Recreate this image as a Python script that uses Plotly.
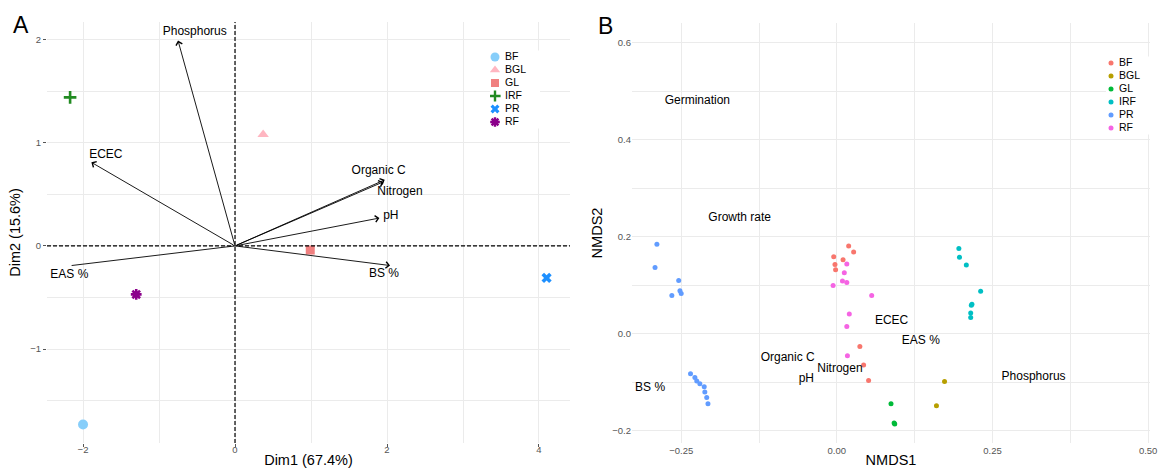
import plotly.graph_objects as go

# ---------------- data ----------------
categories = ["BF", "BGL", "GL", "IRF", "PR", "RF"]

# Panel A: PCA individuals (group centroids)
pca_dim1 = [-2.0, 0.37, 0.99, -2.17, 4.1, -1.3]
pca_dim2 = [-1.73, 1.08, -0.04, 1.44, -0.31, -0.47]

# Panel A: variable loadings (arrows) and label positions
vectors = ["Phosphorus", "ECEC", "Organic C", "Nitrogen", "pH", "BS %", "EAS %"]
load_dim1 = [-0.75, -1.89, 1.97, 1.95, 1.90, 2.04, -2.15]
load_dim2 = [1.99, 0.81, 0.64, 0.62, 0.27, -0.19, -0.19]
label_dim1 = [-0.53, -1.70, 1.89, 2.17, 2.05, 1.96, -2.18]
label_dim2 = [2.07, 0.88, 0.73, 0.52, 0.29, -0.27, -0.28]

# Panel B: NMDS site scores per group
nmds1 = {
    "BF": [0.019, 0.027, -0.005, 0.010, -0.003, -0.002, 0.037, 0.043, 0.051],
    "BGL": [0.173, 0.160],
    "GL": [0.087, 0.093, 0.092],
    "IRF": [0.196, 0.197, 0.208, 0.231, 0.216, 0.217, 0.215, 0.215],
    "PR": [-0.289, -0.292, -0.254, -0.265, -0.252, -0.250, -0.235, -0.228,
           -0.225, -0.220, -0.213, -0.212, -0.209, -0.207],
    "RF": [0.016, 0.012, 0.009, 0.016, -0.006, 0.056, 0.020, 0.016, 0.017],
}
nmds2 = {
    "BF": [0.181, 0.169, 0.159, 0.153, 0.143, 0.132, -0.026, -0.064, -0.096],
    "BGL": [-0.098, -0.148],
    "GL": [-0.144, -0.186, -0.184],
    "IRF": [0.176, 0.158, 0.142, 0.088, 0.059, 0.061, 0.043, 0.034],
    "PR": [0.185, 0.137, 0.110, 0.079, 0.089, 0.083, -0.082, -0.090,
           -0.097, -0.103, -0.109, -0.120, -0.131, -0.144],
    "RF": [0.144, 0.126, 0.109, 0.106, 0.100, 0.079, 0.041, 0.015, -0.045],
}

# Panel B: environmental variable label positions
env_names = ["Germination", "Growth rate", "ECEC", "EAS %", "Phosphorus",
             "Organic C", "Nitrogen", "pH", "BS %"]
env_x = [-0.224, -0.156, 0.088, 0.135, 0.316, -0.079, 0.005, -0.049, -0.300]
env_y = [0.480, 0.239, 0.027, -0.014, -0.088, -0.050, -0.073, -0.093, -0.112]

# ---------------- styles ----------------
FONT = "Liberation Sans, Arial, Helvetica, sans-serif"
a_colors = ["#87CEFA", "#FFB6C1", "#F08080", "#228B22", "#1E90FF", "#8B008B"]
a_symbols = ["circle", "triangle-up", "square", "cross-thin-open", "x", "asterisk-open"]
a_sizes = [10, 10, 9, 9, 9, 9]
b_colors = ["#F8766D", "#B79F00", "#00BA38", "#00BFC4", "#619CFF", "#F564E3"]
GRID = "#ebebeb"
TICKC = "#555555"

fig = go.Figure()

# Panel A points
for i, c in enumerate(categories):
    fig.add_trace(go.Scatter(
        x=[pca_dim1[i]], y=[pca_dim2[i]], mode="markers", name=c,
        marker=dict(symbol=a_symbols[i], color=a_colors[i], size=a_sizes[i],
                    line=dict(color=a_colors[i], width=2.6 if "open" in a_symbols[i] else 0)),
        xaxis="x", yaxis="y", showlegend=False))

# Panel A arrow labels
fig.add_trace(go.Scatter(
    x=label_dim1, y=label_dim2, text=vectors, mode="text",
    textfont=dict(family=FONT, size=12, color="black"),
    xaxis="x", yaxis="y", showlegend=False, hoverinfo="skip"))

# Panel B points
for i, c in enumerate(categories):
    fig.add_trace(go.Scatter(
        x=nmds1[c], y=nmds2[c], mode="markers", name=c,
        marker=dict(color=b_colors[i], size=5),
        xaxis="x2", yaxis="y2", showlegend=False))

# Panel B env labels
fig.add_trace(go.Scatter(
    x=env_x, y=env_y, text=env_names, mode="text",
    textfont=dict(family=FONT, size=12, color="black"),
    xaxis="x2", yaxis="y2", showlegend=False, hoverinfo="skip"))

# Legends (drawn on small hidden axes so the key spacing matches ggplot)
idx = list(range(len(categories)))
for i, c in enumerate(categories):
    fig.add_trace(go.Scatter(
        x=[0.1], y=[idx[i]], mode="markers",
        marker=dict(symbol=a_symbols[i], color=a_colors[i], size=a_sizes[i] - 1,
                    line=dict(color=a_colors[i], width=2.4 if "open" in a_symbols[i] else 0)),
        xaxis="x3", yaxis="y3", showlegend=False, hoverinfo="skip"))
fig.add_trace(go.Scatter(
    x=[0.3] * len(categories), y=idx, text=categories, mode="text",
    textposition="middle right",
    textfont=dict(family=FONT, size=10.5, color="black"),
    xaxis="x3", yaxis="y3", showlegend=False, hoverinfo="skip"))
fig.add_trace(go.Scatter(
    x=[0.1] * len(categories), y=idx, mode="markers",
    marker=dict(color=b_colors, size=5),
    xaxis="x4", yaxis="y4", showlegend=False, hoverinfo="skip"))
fig.add_trace(go.Scatter(
    x=[0.26] * len(categories), y=idx, text=categories, mode="text",
    textposition="middle right",
    textfont=dict(family=FONT, size=10.5, color="black"),
    xaxis="x4", yaxis="y4", showlegend=False, hoverinfo="skip"))

# Arrows for panel A
for i, v in enumerate(vectors):
    fig.add_annotation(
        x=load_dim1[i], y=load_dim2[i], ax=0, ay=0,
        xref="x", yref="y", axref="x", ayref="y",
        showarrow=True, text="",
        arrowhead=0 if v == "EAS %" else 4, arrowsize=1.4, arrowwidth=0.9,
        arrowcolor="black")

# Dashed reference lines
fig.add_shape(type="line", xref="x", yref="y domain", x0=0, x1=0, y0=0, y1=1,
              line=dict(color="black", width=1.2, dash="4px,2px"))
fig.add_shape(type="line", xref="x domain", yref="y", x0=0, x1=1, y0=0, y1=0,
              line=dict(color="black", width=1.2, dash="4px,2px"))

# Panel letters
fig.add_annotation(text="A", x=21 / 1164, y=1 - 25 / 468, xref="paper", yref="paper",
                   xanchor="center", yanchor="middle",
                   showarrow=False, font=dict(family=FONT, size=23, color="black"))
fig.add_annotation(text="B", x=605 / 1164, y=1 - 26 / 468, xref="paper", yref="paper",
                   xanchor="center", yanchor="middle",
                   showarrow=False, font=dict(family=FONT, size=23, color="black"))

tickfont = dict(family=FONT, size=9.5, color=TICKC)
titlefont = dict(family=FONT, size=14.5, color="black")

fig.update_layout(
    width=1164, height=468, margin=dict(l=0, r=0, t=0, b=0),
    template="none", paper_bgcolor="white", plot_bgcolor="white",
    showlegend=False,
    xaxis=dict(domain=[47 / 1164, 570 / 1164], range=[-2.474, 4.408],
               tick0=0, dtick=2, showgrid=True, gridcolor=GRID, gridwidth=1,
               minor=dict(dtick=1, showgrid=True, gridcolor=GRID, gridwidth=1),
               zeroline=False, showline=False, ticks="outside", ticklen=3,
               tickcolor=TICKC, tickfont=tickfont, automargin=False,
               ticklabelstandoff=-5,
               title=dict(text="Dim1 (67.4%)", font=titlefont, standoff=4)),
    yaxis=dict(domain=[1 - 443 / 468, 1 - 22 / 468], range=[-1.91, 2.17],
               tick0=0, dtick=1, showgrid=True, gridcolor=GRID, gridwidth=1,
               minor=dict(dtick=0.5, showgrid=True, gridcolor=GRID, gridwidth=1),
               zeroline=False, showline=False, ticks="outside", ticklen=3,
               tickcolor=TICKC, tickfont=tickfont, automargin=False,
               title=dict(text="Dim2 (15.6%)", font=titlefont, standoff=6)),
    xaxis2=dict(domain=[632 / 1164, 1150 / 1164], range=[-0.329, 0.503],
                tick0=0, dtick=0.25, tickformat=".2f",
                showgrid=True, gridcolor=GRID, gridwidth=1,
                minor=dict(dtick=0.125, showgrid=True, gridcolor=GRID, gridwidth=1),
                zeroline=False, showline=False, ticks="",
                tickfont=tickfont, automargin=False,
                title=dict(text="NMDS1", font=titlefont, standoff=2)),
    yaxis2=dict(domain=[1 - 443 / 468, 1 - 23 / 468], range=[-0.225, 0.641],
                tick0=0, dtick=0.2, tickformat=".1f",
                showgrid=True, gridcolor=GRID, gridwidth=1,
                minor=dict(dtick=0.1, showgrid=True, gridcolor=GRID, gridwidth=1),
                zeroline=False, showline=False, ticks="",
                tickfont=tickfont, automargin=False,
                title=dict(text="NMDS2", font=titlefont, standoff=6)),
    xaxis3=dict(domain=[490 / 1164, 540 / 1164], range=[0, 1], visible=False,
                anchor="y3"),
    yaxis3=dict(domain=[1 - 128.5 / 468, 1 - 50.5 / 468], range=[5.5, -0.5],
                visible=False, anchor="x3"),
    xaxis4=dict(domain=[1106 / 1164, 1156 / 1164], range=[0, 1], visible=False,
                anchor="y4"),
    yaxis4=dict(domain=[1 - 134.5 / 468, 1 - 56.5 / 468], range=[5.5, -0.5],
                visible=False, anchor="x4"),
)
fig.update_layout(xaxis2_anchor="y2", yaxis2_anchor="x2")

fig.write_html("out.html")
